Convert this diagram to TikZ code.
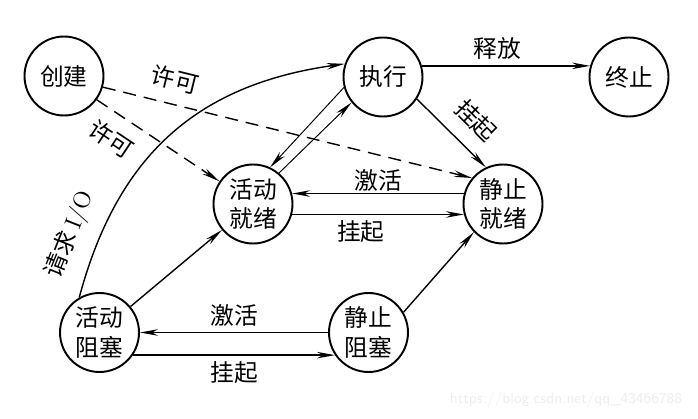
\documentclass[tikz,border=0pt]{standalone}
\usepackage{fontspec}
\newfontfamily\cjk{Noto Sans CJK SC}
\usetikzlibrary{arrows.meta}

\begin{document}
\begin{tikzpicture}[
    state/.style ={circle, draw, line width=1.1pt, minimum size=1.58cm, inner sep=0pt, align=center, font=\cjk\fontsize{13.5}{17}\selectfont},
    trans/.style ={line width=0.8pt, -{Stealth[length=3.6mm, width=1.3mm]}},
    thin trans/.style ={trans, line width=0.55pt},
    permit/.style ={trans, dash pattern=on 2.6mm off 1.6mm},
    lbl/.style ={font=\cjk\fontsize{13.5}{17}\selectfont}]
   \useasboundingbox (0,0) rectangle (13.96,8.36);
   \node[state] (cj) at (1.28,6.84) {创建};
   \node[state] (zx) at (7.66,6.82) {执行};
   \node[state] (zz) at (12.58,6.82) {终止};
   \node[state] (hj) at (5.06,4.28) {活动\\就绪};
   \node[state] (jj) at (10.06,4.28) {静止\\就绪};
   \node[state] (hz) at (1.99,1.71) {活动\\阻塞};
   \node[state] (jz) at (7.37,1.71) {静止\\阻塞};
   \node[font=\sffamily\fontsize{8.5}{9}\selectfont, text=black!7] (url) at (11.32,0.36) {https://blog.csdn.net/qq\_43466788};
   \draw[permit] (cj.-36) to node[lbl, sloped, below=4pt, pos=0.23] {许可} (hj.146);
   \draw[permit] (cj.-16) to node[lbl, sloped, above=4pt, pos=0.18] {许可} (jj.140);
   \draw[trans] (hz.120) to[out=75, in=188, looseness=1.07] node[lbl, sloped, above=5pt, pos=0.13] {请求 {\rmfamily I/O}} (zx.161);
   \draw[trans] (zx.16) to node[lbl, above, pos=0.45] {释放} (zz.164);
   \draw[trans] (zx.-33) to node[lbl, sloped, above=5pt, pos=0.59] {挂起} (jj.115);
   \draw[thin trans] (zx.195) to (hj.65);
   \draw[thin trans] (hj.50) to (zx.219);
   \draw[trans] (jj.165) to node[lbl, above, inner sep=1pt] {激活} (hj.15);
   \draw[trans] (hj.-15) to node[lbl, below, pos=0.4] {挂起} (jj.195);
   \draw[trans] (hz) to (hj);
   \draw[trans] (jz.30) to (jj.224);
   \draw[trans] (jz.180) to node[lbl, above] {激活} (hz.0);
   \draw[trans] (hz.-34) to node[lbl, below] {挂起} (jz.214);
 \end{tikzpicture}
\end{document}
